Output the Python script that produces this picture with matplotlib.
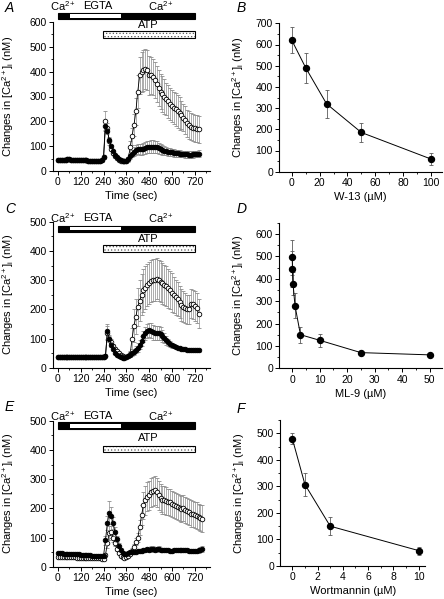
import numpy as np
import matplotlib.pyplot as plt
from matplotlib.patches import Rectangle
from matplotlib.ticker import MultipleLocator

plt.rcParams['font.family'] = ['Liberation Sans', 'DejaVu Sans']
plt.rcParams['mathtext.fontset'] = 'custom'
plt.rcParams['mathtext.rm'] = 'Liberation Sans'
plt.rcParams['mathtext.it'] = 'Liberation Sans:italic'
plt.rcParams['mathtext.default'] = 'regular'
plt.rcParams['font.size'] = 7.5
plt.rcParams['hatch.linewidth'] = 0.5

# ---------------- time courses (every 10 s) ----------------
t_A = np.arange(0, 750, 10)
t_C = np.arange(0, 750, 10)
t_E = np.arange(0, 770, 10)

fill_A = [45, 46, 46, 46, 46, 47, 47, 46, 46, 45,
          45, 44, 44, 44, 43, 43, 42, 42, 42, 41,
          41, 41, 42, 44, 55, 180, 160, 125, 100, 80,
          65, 55, 48, 43, 40, 40, 42, 50, 60, 70,
          78, 84, 87, 87, 88, 90, 92, 95, 97, 98,
          98, 97, 95, 92, 88, 85, 82, 80, 78, 76,
          75, 73, 72, 71, 70, 69, 68, 67, 67, 66,
          66, 67, 68, 69, 70]
fill_A_err = [3, 3, 3, 3, 3, 3, 3, 3, 3, 3,
              3, 3, 3, 3, 3, 3, 3, 3, 3, 3,
              3, 3, 3, 3, 5, 15, 12, 8, 6, 5,
              5, 4, 4, 4, 4, 4, 5, 8, 12, 15,
              18, 20, 20, 22, 22, 22, 23, 24, 25, 25,
              25, 25, 24, 22, 20, 20, 18, 17, 16, 15,
              15, 15, 14, 14, 14, 13, 13, 13, 13, 13,
              13, 13, 13, 13, 13]
open_A = [45, 46, 46, 46, 46, 47, 47, 46, 46, 45,
          45, 44, 44, 44, 43, 43, 42, 42, 42, 41,
          41, 41, 42, 44, 55, 200, 175, 120, 90, 72,
          60, 52, 46, 42, 40, 40, 42, 48, 95, 140,
          185, 240, 320, 385, 398, 405, 410, 408, 385, 385,
          378, 365, 350, 335, 320, 310, 300, 290, 280, 270,
          262, 255, 248, 240, 232, 225, 215, 205, 192, 185,
          178, 175, 172, 170, 168]
open_A_err = [3, 3, 3, 3, 3, 3, 3, 3, 3, 3,
              3, 3, 3, 3, 3, 3, 3, 3, 3, 3,
              3, 3, 3, 3, 5, 40, 20, 15, 10, 8,
              6, 6, 6, 6, 6, 6, 8, 10, 25, 35,
              45, 55, 65, 75, 80, 82, 80, 80, 78, 75,
              72, 72, 72, 72, 72, 72, 72, 65, 65, 65,
              65, 65, 65, 65, 65, 55, 55, 55, 55, 55,
              55, 55, 55, 55, 55]

fill_C = [36, 36, 36, 36, 36, 36, 36, 36, 36, 36,
          36, 36, 36, 36, 36, 36, 36, 36, 36, 36,
          36, 36, 36, 36, 37, 40, 125, 100, 80, 65,
          52, 45, 40, 36, 34, 34, 36, 40, 45, 50,
          55, 62, 70, 80, 92, 108, 118, 125, 130, 128,
          122, 120, 120, 120, 117, 110, 102, 95, 88, 83,
          78, 75, 72, 70, 68, 66, 65, 64, 63, 62,
          61, 60, 60, 60, 60]
fill_C_err = [3, 3, 3, 3, 3, 3, 3, 3, 3, 3,
              3, 3, 3, 3, 3, 3, 3, 3, 3, 3,
              3, 3, 3, 3, 3, 4, 25, 10, 8, 6,
              5, 4, 4, 4, 4, 4, 4, 5, 6, 8,
              10, 12, 14, 16, 18, 20, 22, 24, 25, 25,
              25, 25, 25, 25, 22, 20, 18, 15, 12, 10,
              8, 7, 6, 6, 5, 5, 5, 5, 5, 5,
              5, 5, 5, 5, 5]
open_C = [36, 36, 36, 36, 36, 36, 36, 36, 36, 36,
          36, 36, 36, 36, 36, 36, 36, 36, 36, 36,
          36, 36, 36, 36, 37, 40, 120, 100, 88, 75,
          65, 57, 50, 45, 40, 38, 37, 40, 48, 100,
          145, 175, 210, 230, 250, 265, 275, 285, 290, 298,
          300, 300, 305, 300, 295, 290, 285, 280, 272, 265,
          258, 250, 242, 235, 225, 215, 210, 205, 200, 200,
          220, 218, 212, 205, 185]
open_C_err = [3, 3, 3, 3, 3, 3, 3, 3, 3, 3,
              3, 3, 3, 3, 3, 3, 3, 3, 3, 3,
              3, 3, 3, 3, 3, 4, 25, 12, 10, 8,
              6, 5, 5, 5, 5, 5, 5, 6, 10, 35,
              55, 60, 65, 70, 70, 72, 72, 72, 72, 72,
              72, 72, 70, 70, 70, 70, 68, 68, 66, 65,
              65, 62, 60, 58, 55, 55, 52, 50, 50, 50,
              50, 50, 50, 50, 50]

fill_E = [46, 46, 46, 45, 45, 45, 44, 44, 43, 43,
          42, 42, 41, 41, 40, 40, 39, 39, 38, 38,
          37, 37, 36, 36, 38, 90, 150, 185, 175, 150,
          120, 95, 72, 58, 48, 45, 45, 47, 50, 50,
          52, 52, 53, 54, 55, 57, 58, 60, 58, 60,
          60, 58, 60, 62, 58, 57, 57, 56, 56, 55,
          55, 56, 56, 57, 58, 58, 58, 57, 56, 55,
          54, 53, 53, 54, 56, 58, 60]
fill_E_err = [5, 5, 5, 5, 5, 5, 5, 5, 5, 5,
              5, 5, 5, 5, 5, 5, 5, 5, 5, 5,
              5, 5, 5, 5, 5, 15, 25, 40, 30, 20,
              15, 10, 8, 6, 5, 5, 5, 5, 6, 6,
              6, 6, 6, 6, 6, 7, 7, 8, 8, 10,
              10, 8, 8, 8, 7, 7, 7, 7, 7, 7,
              7, 7, 7, 7, 7, 7, 7, 7, 7, 7,
              7, 7, 7, 8, 8, 9, 10]
open_E = [33, 33, 33, 33, 33, 32, 32, 32, 32, 32,
          31, 31, 31, 31, 31, 30, 30, 30, 30, 30,
          29, 29, 29, 28, 28, 40, 80, 115, 120, 100,
          80, 62, 48, 38, 32, 30, 32, 38, 45, 55,
          68, 85, 100, 135, 177, 210, 228, 240, 245, 255,
          258, 262, 255, 245, 235, 228, 228, 225, 222, 220,
          215, 212, 208, 205, 200, 198, 200, 195, 190, 188,
          182, 180, 177, 175, 170, 167, 165]
open_E_err = [4, 4, 4, 4, 4, 4, 4, 4, 4, 4,
              4, 4, 4, 4, 4, 4, 4, 4, 4, 4,
              4, 4, 4, 4, 4, 8, 15, 25, 20, 15,
              10, 8, 6, 5, 4, 4, 4, 5, 6, 8,
              10, 12, 15, 25, 35, 45, 50, 50, 50, 50,
              50, 50, 50, 50, 48, 48, 48, 48, 45, 45,
              45, 45, 45, 45, 45, 45, 45, 45, 45, 45,
              45, 45, 45, 45, 45, 45, 45]

# ---------------- dose responses ----------------
w13_conc = [0, 10, 25, 50, 100]
w13_val = [620, 490, 320, 185, 60]
w13_err = [62, 72, 66, 47, 30]

ml9_conc = [0, 0.1, 0.3, 1, 3, 10, 25, 50]
ml9_val = [495, 445, 378, 280, 150, 125, 70, 60]
ml9_err = [77, 80, 50, 55, 35, 30, 8, 8]

wort_conc = [0, 1, 3, 10]
wort_val = [480, 307, 150, 58]
wort_err = [20, 45, 33, 15]

# solution protocol (s)
ca_on, egta_on, egta_off, ca_off = 0, 62, 332, 720
atp_on, atp_off = 235, 720

W, H = 444, 599
fig = plt.figure(figsize=(W / 100, H / 100), dpi=100)


def px_axes(l, r, b, t):
    return fig.add_axes([l / W, 1 - b / H, (r - l) / W, (b - t) / H])


def style(ax, xmaj, xmin, ymaj, ymin):
    for s in ['top', 'right']:
        ax.spines[s].set_visible(False)
    for s in ['left', 'bottom']:
        ax.spines[s].set_linewidth(0.8)
    ax.xaxis.set_major_locator(MultipleLocator(xmaj))
    ax.xaxis.set_minor_locator(MultipleLocator(xmin))
    ax.yaxis.set_major_locator(MultipleLocator(ymaj))
    ax.yaxis.set_minor_locator(MultipleLocator(ymin))
    ax.tick_params(which='major', direction='out', length=3, width=0.7,
                   labelsize=7.5, pad=1.5)
    ax.tick_params(which='minor', direction='out', length=1.6, width=0.6)


def trace(ax, t, y, e, filled):
    ax.errorbar(t, y, yerr=e, fmt='-o', color='k', lw=0.6, ms=3.3,
                mfc='k' if filled else 'w', mec='k', mew=0.6,
                ecolor='0.55', elinewidth=0.5, capsize=1.2, capthick=0.5,
                zorder=4 if filled else 3)


def protocol(ax, ca_y, ca_h, atp_y, atp_h, ca_txt_y, atp_txt_y):
    ax.add_patch(Rectangle((ca_on, ca_y), ca_off - ca_on, ca_h, fc='k',
                           ec='k', lw=0.8, clip_on=False))
    ax.add_patch(Rectangle((egta_on, ca_y + ca_h * 0.2), egta_off - egta_on,
                           ca_h * 0.6, fc='w', ec='none', clip_on=False))
    ax.add_patch(Rectangle((atp_on, atp_y), atp_off - atp_on, atp_h, fc='w',
                           ec='0.35', hatch='.....', lw=0, clip_on=False))
    ax.add_patch(Rectangle((atp_on, atp_y), atp_off - atp_on, atp_h,
                           fill=False, ec='k', lw=0.8, clip_on=False))
    kw = dict(ha='center', va='center', fontsize=8, clip_on=False)
    ax.text(25, ca_txt_y, 'Ca$^{2+}$', **kw)
    ax.text(210, ca_txt_y, 'EGTA', **kw)
    ax.text(545, ca_txt_y, 'Ca$^{2+}$', **kw)
    ax.text(478, atp_txt_y, 'ATP', **kw)


ylab = 'Changes in [Ca$^{2+}$]$_{i}$ (nM)'

# left column: time courses
lefts = [
    (px_axes(53, 210, 171, 22), 600, t_A, open_A, open_A_err, fill_A, fill_A_err,
     (612, 25, 535, 29, 665, 586)),
    (px_axes(53, 210, 368, 221.7), 500, t_C, open_C, open_C_err, fill_C, fill_C_err,
     (466, 20, 398, 22, 514, 441)),
    (px_axes(53, 210, 566.7, 420.7), 500, t_E, open_E, open_E_err, fill_E, fill_E_err,
     (470, 24, 392, 23, 517, 440)),
]
for ax, ytop, t, yo, eo, yf, ef, prot in lefts:
    trace(ax, t, yo, eo, False)
    trace(ax, t, yf, ef, True)
    ax.set_xlim(-26, 800)
    ax.set_ylim(0, ytop)
    style(ax, 120, 60, 100, 50)
    protocol(ax, *prot)
    ax.set_xlabel('Time (sec)', fontsize=8, labelpad=3)
    ax.set_ylabel(ylab, fontsize=8)
    ax.yaxis.set_label_coords(-0.235, 0.5)

# right column: dose responses
rights = [
    (px_axes(279.3, 442, 171.7, 23.3), w13_conc, w13_val, w13_err, (-9, 108), 700,
     (20, 10), 'W-13 (\u00b5M)'),
    (px_axes(279.3, 442, 368.3, 222.7), ml9_conc, ml9_val, ml9_err, (-4.7, 54.5), 650,
     (10, 5), 'ML-9 (\u00b5M)'),
    (px_axes(280.3, 425, 566, 420), wort_conc, wort_val, wort_err, (-0.95, 10.5), 550,
     (2, 1), 'Wortmannin (\u00b5M)'),
]
for ax, x, y, e, xl, ytop, xt, xlabel in rights:
    ax.errorbar(x, y, yerr=e, fmt='-o', color='k', lw=0.7, ms=4.3, mfc='k',
                mec='k', ecolor='0.35', elinewidth=0.6, capsize=1.5,
                capthick=0.6, clip_on=False, zorder=3)
    ax.set_xlim(*xl)
    ax.set_ylim(0, ytop)
    style(ax, xt[0], xt[1], 100, 50)
    ax.set_xlabel(xlabel, fontsize=8, labelpad=3)
    ax.set_ylabel(ylab, fontsize=8)
    ax.yaxis.set_label_coords(-0.205 * 162.7 / ax.get_position().width / W, 0.5)

for txt, x, y in [('A', 5, 8), ('B', 237, 8), ('C', 5, 209), ('D', 237, 209),
                  ('E', 5, 407), ('F', 237, 409)]:
    fig.text(x / W, 1 - y / H, txt, fontsize=10, style='italic',
             ha='left', va='center')

fig.savefig('out.png', dpi=100)
